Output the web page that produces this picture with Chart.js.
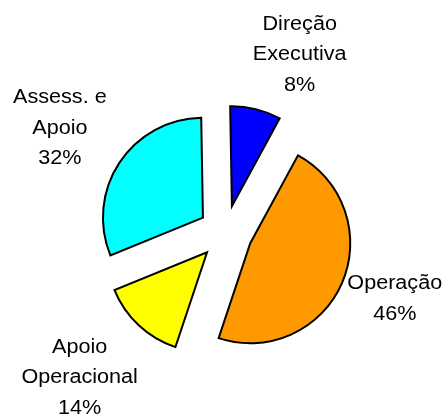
<!DOCTYPE html>
<html>
<head>
<meta charset="utf-8">
<script src="https://cdn.jsdelivr.net/npm/chart.js@4"></script>
<style>
  html, body { margin: 0; padding: 0; background: #ffffff; }
  #c { display: block; }
</style>
</head>
<body>
<canvas id="c" width="444" height="414"></canvas>
<script>
// ---- data ----
const categories = [
  ['Direção', 'Executiva'],
  ['Operação'],
  ['Apoio', 'Operacional'],
  ['Assess. e', 'Apoio']
];
// slice sizes as drawn in the picture
const values = [8.2, 47.2, 13.7, 30.9];
// percentage labels as printed in the picture
const percentLabels = ['8%', '46%', '14%', '32%'];
const sliceColors = ['#0000FF', '#FF9900', '#FFFF00', '#00FFFF'];

// ---- layout/styling (not data) ----
const EXPLODE = 27;
const LABEL_DIST = 1.9;
const labelNudge = [[29, 5.5], [-5, -10.5], [-16, 5], [-7, -1]];
const LINE_H = 30.5;
const CAP_H = 14;

const explodePlugin = {
  id: 'explode',
  beforeDatasetDraw(chart, args) {
    const meta = args.meta;
    const ctx = chart.ctx;
    meta.data.forEach((arc) => {
      const p = arc.getProps(['startAngle', 'endAngle']);
      const mid = (p.startAngle + p.endAngle) / 2;
      ctx.save();
      ctx.translate(Math.cos(mid) * EXPLODE, Math.sin(mid) * EXPLODE);
      arc.draw(ctx, chart.chartArea);
      ctx.restore();
    });
    return false;
  }
};

const labelPlugin = {
  id: 'sliceLabels',
  afterDatasetsDraw(chart) {
    const ctx = chart.ctx;
    const meta = chart.getDatasetMeta(0);
    meta.data.forEach((arc, i) => {
      const p = arc.getProps(['x', 'y', 'startAngle', 'endAngle', 'outerRadius']);
      const mid = (p.startAngle + p.endAngle) / 2;
      const cx = p.x + Math.cos(mid) * p.outerRadius * LABEL_DIST + labelNudge[i][0];
      const cy = p.y + Math.sin(mid) * p.outerRadius * LABEL_DIST + labelNudge[i][1];
      const lines = categories[i].concat([percentLabels[i]]);
      const first = cy - (lines.length - 1) * LINE_H / 2 + CAP_H / 2;
      ctx.save();
      ctx.fillStyle = '#000000';
      ctx.font = '20px "Liberation Sans", Arial, sans-serif';
      ctx.textAlign = 'center';
      ctx.textBaseline = 'alphabetic';
      lines.forEach((t, k) => {
        ctx.save();
        ctx.translate(cx, first + k * LINE_H);
        ctx.scale(1.08, 1);
        ctx.fillText(t, 0, 0);
        ctx.restore();
      });
      ctx.restore();
    });
  }
};

new Chart(document.getElementById('c'), {
  type: 'pie',
  data: {
    labels: categories,
    datasets: [{
      data: values,
      backgroundColor: sliceColors,
      borderColor: '#000000',
      borderWidth: 2,
      borderJoinStyle: 'miter',
      hoverOffset: 0
    }]
  },
  options: {
    responsive: false,
    animation: false,
    events: [],
    radius: 100,
    rotation: -1,
    layout: { padding: { left: 57, right: 50, top: 90, bottom: 39 } },
    plugins: {
      legend: { display: false },
      tooltip: { enabled: false }
    }
  },
  plugins: [explodePlugin, labelPlugin]
});
</script>
</body>
</html>
